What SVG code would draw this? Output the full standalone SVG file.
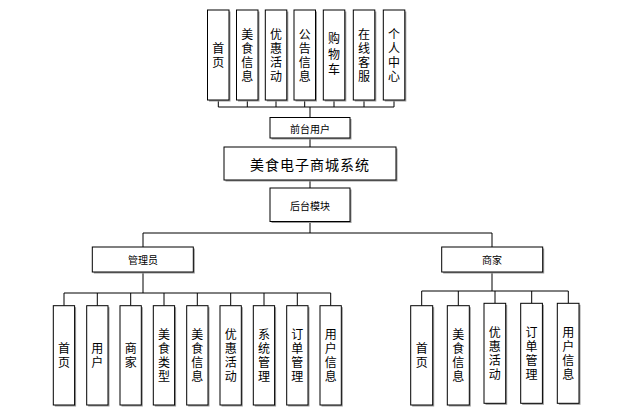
<svg xmlns="http://www.w3.org/2000/svg" width="633" height="418" viewBox="0 0 633 418">
<defs>
<style>
.bx{fill:#fff;stroke:#000;stroke-width:1}
.sh{fill:#9a9a9a;stroke:none}
.t{font-family:"Noto Sans CJK SC","Liberation Sans",sans-serif;font-size:12px;fill:#000;text-anchor:middle;dominant-baseline:central}
.v{writing-mode:vertical-rl;letter-spacing:2px}
.s{font-size:10px}
.ti{font-size:14px;letter-spacing:1px}
.c{stroke:#000;stroke-width:1;fill:none}
</style>
</defs>
<rect width="633" height="418" fill="#fff"/>
<g id="connectors">
<path class="c" d="M218.3 100V107M247.3 100V107M276 100V107M304.7 100V107M334 100V107M364 100V107M394 100V107M218.3 107H394"/>
<path class="c" stroke-width="1.5" d="M310 107V117.5"/>
<path class="c" d="M310 138V147M310 180V188M310 221.5V233M143 233H492M143 233V247M492 233V247"/>
<path class="c" stroke-width="1.5" d="M143 272V293M492 272V291"/>
<path class="c" d="M64 293H330.7M64 293V305.7M97.3 293V305.7M130.7 293V305.7M164 293V305.7M197.3 293V305.7M230.7 293V305.7M264 293V305.7M297.3 293V305.7M330.7 293V305.7"/>
<path class="c" d="M421.7 291H568.3M421.7 291V305.7M458.3 291V305.7M495 291V303.3M531.7 291V303.3M568.3 291V303.3"/>
</g>
<g id="n_home_top"><rect class="sh" x="209" y="11.5" width="21.5" height="90"/><rect class="bx" x="207.5" y="10" width="21.5" height="90"/><text class="t v" x="218.3" y="56">首页</text></g>
<g id="n_food_top"><rect class="sh" x="238" y="11.5" width="21.5" height="90"/><rect class="bx" x="236.5" y="10" width="21.5" height="90"/><text class="t v" x="247.3" y="56">美食信息</text></g>
<g id="n_promo_top"><rect class="sh" x="266.8" y="11.5" width="21.5" height="90"/><rect class="bx" x="265.3" y="10" width="21.5" height="90"/><text class="t v" x="276" y="56">优惠活动</text></g>
<g id="n_notice_top"><rect class="sh" x="295.5" y="11.5" width="21.5" height="90"/><rect class="bx" x="294" y="10" width="21.5" height="90"/><text class="t v" x="304.7" y="56">公告信息</text></g>
<g id="n_cart_top"><rect class="sh" x="324.8" y="11.5" width="21.5" height="90"/><rect class="bx" x="323.3" y="10" width="21.5" height="90"/><text class="t v" x="334" y="56" style="letter-spacing:3.5px">购物车</text></g>
<g id="n_service_top"><rect class="sh" x="354.8" y="11.5" width="21.5" height="90"/><rect class="bx" x="353.3" y="10" width="21.5" height="90"/><text class="t v" x="364" y="56">在线客服</text></g>
<g id="n_center_top"><rect class="sh" x="384.8" y="11.5" width="21.5" height="90"/><rect class="bx" x="383.3" y="10" width="21.5" height="90"/><text class="t v" x="394" y="56">个人中心</text></g>
<g id="n_front"><rect class="sh" x="271.5" y="119" width="80" height="20.5"/><rect class="bx" x="270" y="117.5" width="80" height="20.5"/><text class="t s" x="310" y="128">前台用户</text></g>
<g id="n_system"><rect class="sh" x="225.5" y="148.5" width="172" height="33"/><rect class="bx" x="224" y="147" width="172" height="33"/><text class="t ti" x="310" y="163.5">美食电子商城系统</text></g>
<g id="n_back"><rect class="sh" x="271.5" y="189.5" width="80" height="33.5"/><rect class="bx" x="270" y="188" width="80" height="33.5"/><text class="t s" x="310" y="205">后台模块</text></g>
<g id="n_admin"><rect class="sh" x="93.8" y="248.5" width="101" height="25"/><rect class="bx" x="92.3" y="247" width="101" height="25"/><text class="t s" x="143" y="259.5">管理员</text></g>
<g id="n_merchant"><rect class="sh" x="443.2" y="248.5" width="101" height="25"/><rect class="bx" x="441.7" y="247" width="101" height="25"/><text class="t s" x="492" y="259.5">商家</text></g>
<g id="a_home"><rect class="sh" x="54.8" y="307.2" width="21.3" height="99.3"/><rect class="bx" x="53.3" y="305.7" width="21.3" height="99.3"/><text class="t v" x="64" y="356">首页</text></g>
<g id="a_user"><rect class="sh" x="88.2" y="307.2" width="21.3" height="99.3"/><rect class="bx" x="86.7" y="305.7" width="21.3" height="99.3"/><text class="t v" x="97.3" y="356">用户</text></g>
<g id="a_merchant"><rect class="sh" x="121.5" y="307.2" width="21.3" height="99.3"/><rect class="bx" x="120" y="305.7" width="21.3" height="99.3"/><text class="t v" x="130.7" y="356">商家</text></g>
<g id="a_foodtype"><rect class="sh" x="154.8" y="307.2" width="21.3" height="99.3"/><rect class="bx" x="153.3" y="305.7" width="21.3" height="99.3"/><text class="t v" x="164" y="356">美食类型</text></g>
<g id="a_food"><rect class="sh" x="188.2" y="307.2" width="21.3" height="99.3"/><rect class="bx" x="186.7" y="305.7" width="21.3" height="99.3"/><text class="t v" x="197.3" y="356">美食信息</text></g>
<g id="a_promo"><rect class="sh" x="221.5" y="307.2" width="21.3" height="99.3"/><rect class="bx" x="220" y="305.7" width="21.3" height="99.3"/><text class="t v" x="230.7" y="356">优惠活动</text></g>
<g id="a_sys"><rect class="sh" x="254.8" y="307.2" width="21.3" height="99.3"/><rect class="bx" x="253.3" y="305.7" width="21.3" height="99.3"/><text class="t v" x="264" y="356">系统管理</text></g>
<g id="a_order"><rect class="sh" x="288.2" y="307.2" width="21.3" height="99.3"/><rect class="bx" x="286.7" y="305.7" width="21.3" height="99.3"/><text class="t v" x="297.3" y="356">订单管理</text></g>
<g id="a_userinfo"><rect class="sh" x="321.5" y="307.2" width="21.3" height="99.3"/><rect class="bx" x="320" y="305.7" width="21.3" height="99.3"/><text class="t v" x="330.7" y="356">用户信息</text></g>
<g id="m_home"><rect class="sh" x="412.2" y="307.2" width="22" height="99.3"/><rect class="bx" x="410.7" y="305.7" width="22" height="99.3"/><text class="t v" x="421.7" y="356">首页</text></g>
<g id="m_food"><rect class="sh" x="448.8" y="307.2" width="22" height="99.3"/><rect class="bx" x="447.3" y="305.7" width="22" height="99.3"/><text class="t v" x="458.3" y="356">美食信息</text></g>
<g id="m_promo"><rect class="sh" x="485.5" y="304.8" width="21.7" height="100"/><rect class="bx" x="484" y="303.3" width="21.7" height="100"/><text class="t v" x="494.8" y="354">优惠活动</text></g>
<g id="m_order"><rect class="sh" x="522.2" y="304.8" width="21.7" height="100"/><rect class="bx" x="520.7" y="303.3" width="21.7" height="100"/><text class="t v" x="531.5" y="354">订单管理</text></g>
<g id="m_userinfo"><rect class="sh" x="558.8" y="304.8" width="21.7" height="100"/><rect class="bx" x="557.3" y="303.3" width="21.7" height="100"/><text class="t v" x="568.2" y="354">用户信息</text></g>
</svg>
